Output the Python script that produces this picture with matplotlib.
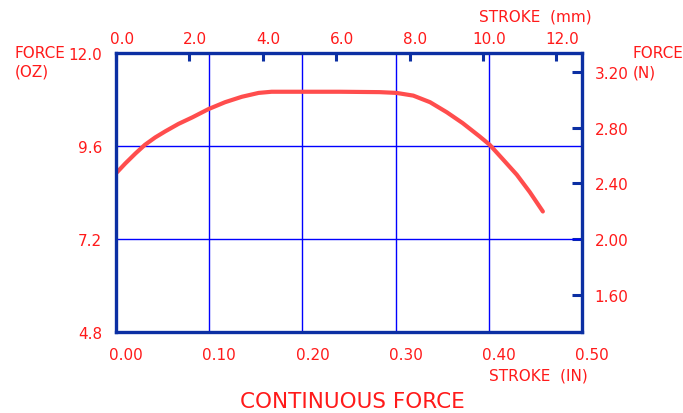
import matplotlib
matplotlib.use("Agg")
import matplotlib.pyplot as plt
import matplotlib.transforms as mtransforms

# curve: stroke (in) vs force (oz)
stroke_in = [0.001, 0.010, 0.021, 0.031, 0.042, 0.053, 0.067, 0.082, 0.099, 0.117,
             0.135, 0.153, 0.167, 0.200, 0.240, 0.283, 0.301, 0.319, 0.337, 0.355,
             0.372, 0.390, 0.401, 0.415, 0.430, 0.444, 0.458]
force_oz = [8.92, 9.15, 9.41, 9.63, 9.82, 9.98, 10.17, 10.34, 10.55, 10.73,
            10.87, 10.97, 11.00, 11.00, 11.00, 10.99, 10.97, 10.90, 10.73, 10.47,
            10.19, 9.85, 9.63, 9.26, 8.86, 8.41, 7.91]

x_ticks_in = [0.0, 0.1, 0.2, 0.3, 0.4, 0.5]
x_labels_in = ["0.00", "0.10", "0.20", "0.30", "0.40", "0.50"]
y_ticks_oz = [4.8, 7.2, 9.6, 12.0]
x_ticks_mm = [0.0, 2.0, 4.0, 6.0, 8.0, 10.0, 12.0]
y_ticks_n = [1.6, 2.0, 2.4, 2.8, 3.2]

OZ_TO_N = 0.278014
RED = "#ff1a1a"
NAVY = "#0b2fa3"
GRID = "#0000ff"
FS = 11

fig = plt.figure(figsize=(6.83, 4.14), dpi=100)
ax = fig.add_axes([116 / 683, 81 / 414, 466 / 683, 279 / 414])

ax.plot(stroke_in, force_oz, color="#ff4d4d", lw=3, solid_capstyle="round",
        solid_joinstyle="round", zorder=3)

ax.set_xlim(0, 0.5)
ax.set_ylim(4.8, 12.0)
ax.set_xticks(x_ticks_in)
ax.set_xticklabels(x_labels_in)
ax.set_yticks(y_ticks_oz)
ax.set_yticklabels(["%.1f" % v for v in y_ticks_oz])
ax.grid(True, color=GRID, lw=1)
ax.tick_params(axis="both", length=0, colors=RED, labelsize=FS)
ax.tick_params(axis="x", pad=11)
ax.tick_params(axis="y", pad=10)
for s in ax.spines.values():
    s.set_color(NAVY)
    s.set_linewidth(2.4)
    s.set_zorder(4)

# shift bottom labels to the right a bit like the original
shift = mtransforms.ScaledTranslation(10 / 100, 0, fig.dpi_scale_trans)
for lab in ax.get_xticklabels():
    lab.set_transform(lab.get_transform() + shift)

# top axis in mm
top = ax.secondary_xaxis("top", functions=(lambda x: x * 25.4, lambda m: m / 25.4))
top.set_xticks(x_ticks_mm)
top.set_xticklabels(["%.1f" % v for v in x_ticks_mm])
top.tick_params(direction="in", length=6, width=2.2, color=NAVY, labelcolor=RED,
                labelsize=FS, pad=5)
top.spines["top"].set_visible(False)
shift_top = mtransforms.ScaledTranslation(6 / 100, 0, fig.dpi_scale_trans)
for lab in top.get_xticklabels():
    lab.set_transform(lab.get_transform() + shift_top)

# right axis in newtons
right = ax.secondary_yaxis("right", functions=(lambda v: v * OZ_TO_N, lambda n: n / OZ_TO_N))
right.set_yticks(y_ticks_n)
right.set_yticklabels(["%.2f" % v for v in y_ticks_n])
right.tick_params(direction="in", length=7, width=2.2, color=NAVY, labelcolor=RED,
                  labelsize=FS, pad=9)
right.spines["right"].set_visible(False)

# axis captions
fig.text(15 / 683, 1 - 53 / 414, "FORCE", color=RED, fontsize=FS, va="center", ha="left")
fig.text(15 / 683, 1 - 72 / 414, "(OZ)", color=RED, fontsize=FS, va="center", ha="left")
fig.text(633 / 683, 1 - 53 / 414, "FORCE", color=RED, fontsize=FS, va="center", ha="left")
fig.text(633 / 683, 1 - 73 / 414, "(N)", color=RED, fontsize=FS, va="center", ha="left")
fig.text(592 / 683, 1 - 17 / 414, "STROKE  (mm)", color=RED, fontsize=FS, va="center", ha="right")
fig.text(588 / 683, 1 - 376 / 414, "STROKE  (IN)", color=RED, fontsize=FS, va="center", ha="right")
fig.text(352 / 683, 1 - 402 / 414, "CONTINUOUS FORCE", color=RED, fontsize=15.5,
         va="center", ha="center")

fig.savefig("out.png", dpi=100)
